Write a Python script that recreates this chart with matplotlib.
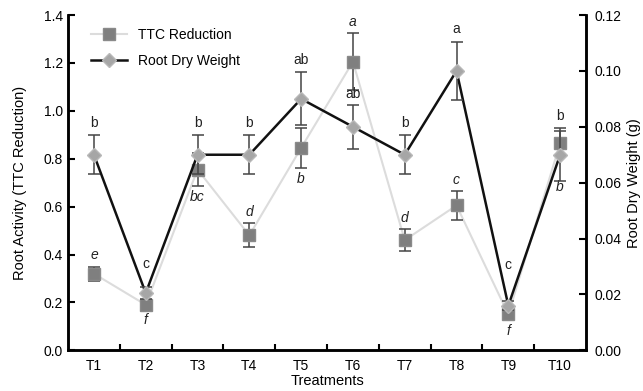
import numpy as np
import matplotlib
matplotlib.use("Agg")
import matplotlib.pyplot as plt

plt.rcParams["font.family"] = ["Liberation Sans", "DejaVu Sans"]

treatments = ["T1", "T2", "T3", "T4", "T5", "T6", "T7", "T8", "T9", "T10"]

ttc = [0.32, 0.19, 0.755, 0.48, 0.845, 1.205, 0.46, 0.605, 0.15, 0.865]
ttc_err = [0.03, 0.015, 0.07, 0.05, 0.085, 0.12, 0.045, 0.06, 0.015, 0.05]
ttc_letters = ["e", "f", "bc", "d", "b", "a", "d", "c", "f", "b"]
ttc_letter_above = [True, False, False, True, False, True, True, True, False, False]
ttc_pad = [3, 3, 3, 3, 3, 3, 3, 3, 4, 18]

rdw = [0.07, 0.0205, 0.07, 0.07, 0.09, 0.08, 0.07, 0.10, 0.016, 0.07]
rdw_err = [0.007, 0.002, 0.007, 0.007, 0.0095, 0.0078, 0.007, 0.0105, 0.0015, 0.0094]
rdw_letters = ["b", "c", "b", "b", "ab", "ab", "b", "a", "c", "b"]
rdw_pad = [4, 12, 4, 4, 4, 3, 4, 4, 21, 4]

x = np.arange(1, len(treatments) + 1)

fig = plt.figure(figsize=(6.43, 3.91), dpi=100)
ax = fig.add_axes([0.1058, 0.104, 0.8056, 0.8576])

ax.plot(x, ttc, color="#dcdcdc", lw=1.5, zorder=1)
ax.errorbar(x, ttc, yerr=ttc_err, fmt="none", ecolor="#444444", elinewidth=1.1,
            capsize=4, capthick=1.1, zorder=2)
ax.plot(x, ttc, ls="none", marker="s", ms=9, mfc="#7f7f7f", mec="#8a8a8a", zorder=3,
        label="TTC Reduction")

for xi, v, e, t, above, p in zip(x, ttc, ttc_err, ttc_letters, ttc_letter_above, ttc_pad):
    if above:
        ax.annotate(t, (xi, v + e), xytext=(0, p), textcoords="offset points",
                    ha="center", va="bottom", style="italic", fontsize=10, color="#222222")
    else:
        ax.annotate(t, (xi, v - e), xytext=(0, -p), textcoords="offset points",
                    ha="center", va="top", style="italic", fontsize=10, color="#222222")

ax.set_xlim(0.5, 10.5)
ax.set_ylim(0, 1.4)
ax.set_yticks(np.arange(0, 1.41, 0.2))
ax.set_yticklabels([f"{v:.1f}" for v in np.arange(0, 1.41, 0.2)])
ax.set_xticks(x)
ax.set_xticklabels(treatments)
ax.set_xticks(np.arange(1.5, 10, 1), minor=True)
ax.tick_params(axis="x", which="major", length=0, pad=6, labelsize=10)
ax.tick_params(axis="x", which="minor", direction="in", length=4, width=1.5)
ax.tick_params(axis="y", direction="in", length=5, width=1.5, labelsize=10)
ax.set_xlabel("Treatments", fontsize=10.5, labelpad=1)
ax.set_ylabel("Root Activity (TTC Reduction)", fontsize=10.5, labelpad=12)
ax.spines["top"].set_visible(False)
for s in ["left", "bottom", "right"]:
    ax.spines[s].set_linewidth(1.8)

ax2 = ax.twinx()
ax2.plot(x, rdw, color="#111111", lw=1.8, zorder=1)
ax2.errorbar(x, rdw, yerr=rdw_err, fmt="none", ecolor="#444444", elinewidth=1.1,
             capsize=4, capthick=1.1, zorder=2)
ax2.plot(x, rdw, ls="none", marker="D", ms=7, mfc="#a6a6a6", mec="#b8b8b8", zorder=3)

for xi, v, e, t, p in zip(x, rdw, rdw_err, rdw_letters, rdw_pad):
    ax2.annotate(t, (xi, v + e), xytext=(0, p), textcoords="offset points",
                 ha="center", va="bottom", fontsize=10, color="#222222")

ax2.set_ylim(0, 0.12)
ax2.set_yticks(np.arange(0, 0.121, 0.02))
ax2.set_yticklabels([f"{v:.2f}" for v in np.arange(0, 0.121, 0.02)])
ax2.tick_params(axis="y", direction="in", length=5, width=1.5, labelsize=10, pad=6)
ax2.set_ylabel("Root Dry Weight (g)", fontsize=10.5, labelpad=4)
ax2.spines["top"].set_visible(False)
for s in ["left", "bottom", "right"]:
    ax2.spines[s].set_linewidth(1.8)

h1 = plt.Line2D([], [], color="#dcdcdc", lw=1.5, marker="s", ms=9, mfc="#7f7f7f", mec="#8a8a8a")
h2 = plt.Line2D([], [], color="#111111", lw=1.8, marker="D", ms=7, mfc="#a6a6a6", mec="#b8b8b8")
ax2.legend([h1, h2], ["TTC Reduction", "Root Dry Weight"], loc="upper left",
           bbox_to_anchor=(0.02, 1.0), frameon=False, fontsize=10, handlelength=2.6,
           labelspacing=0.9)

fig.savefig("out.png", dpi=100)
